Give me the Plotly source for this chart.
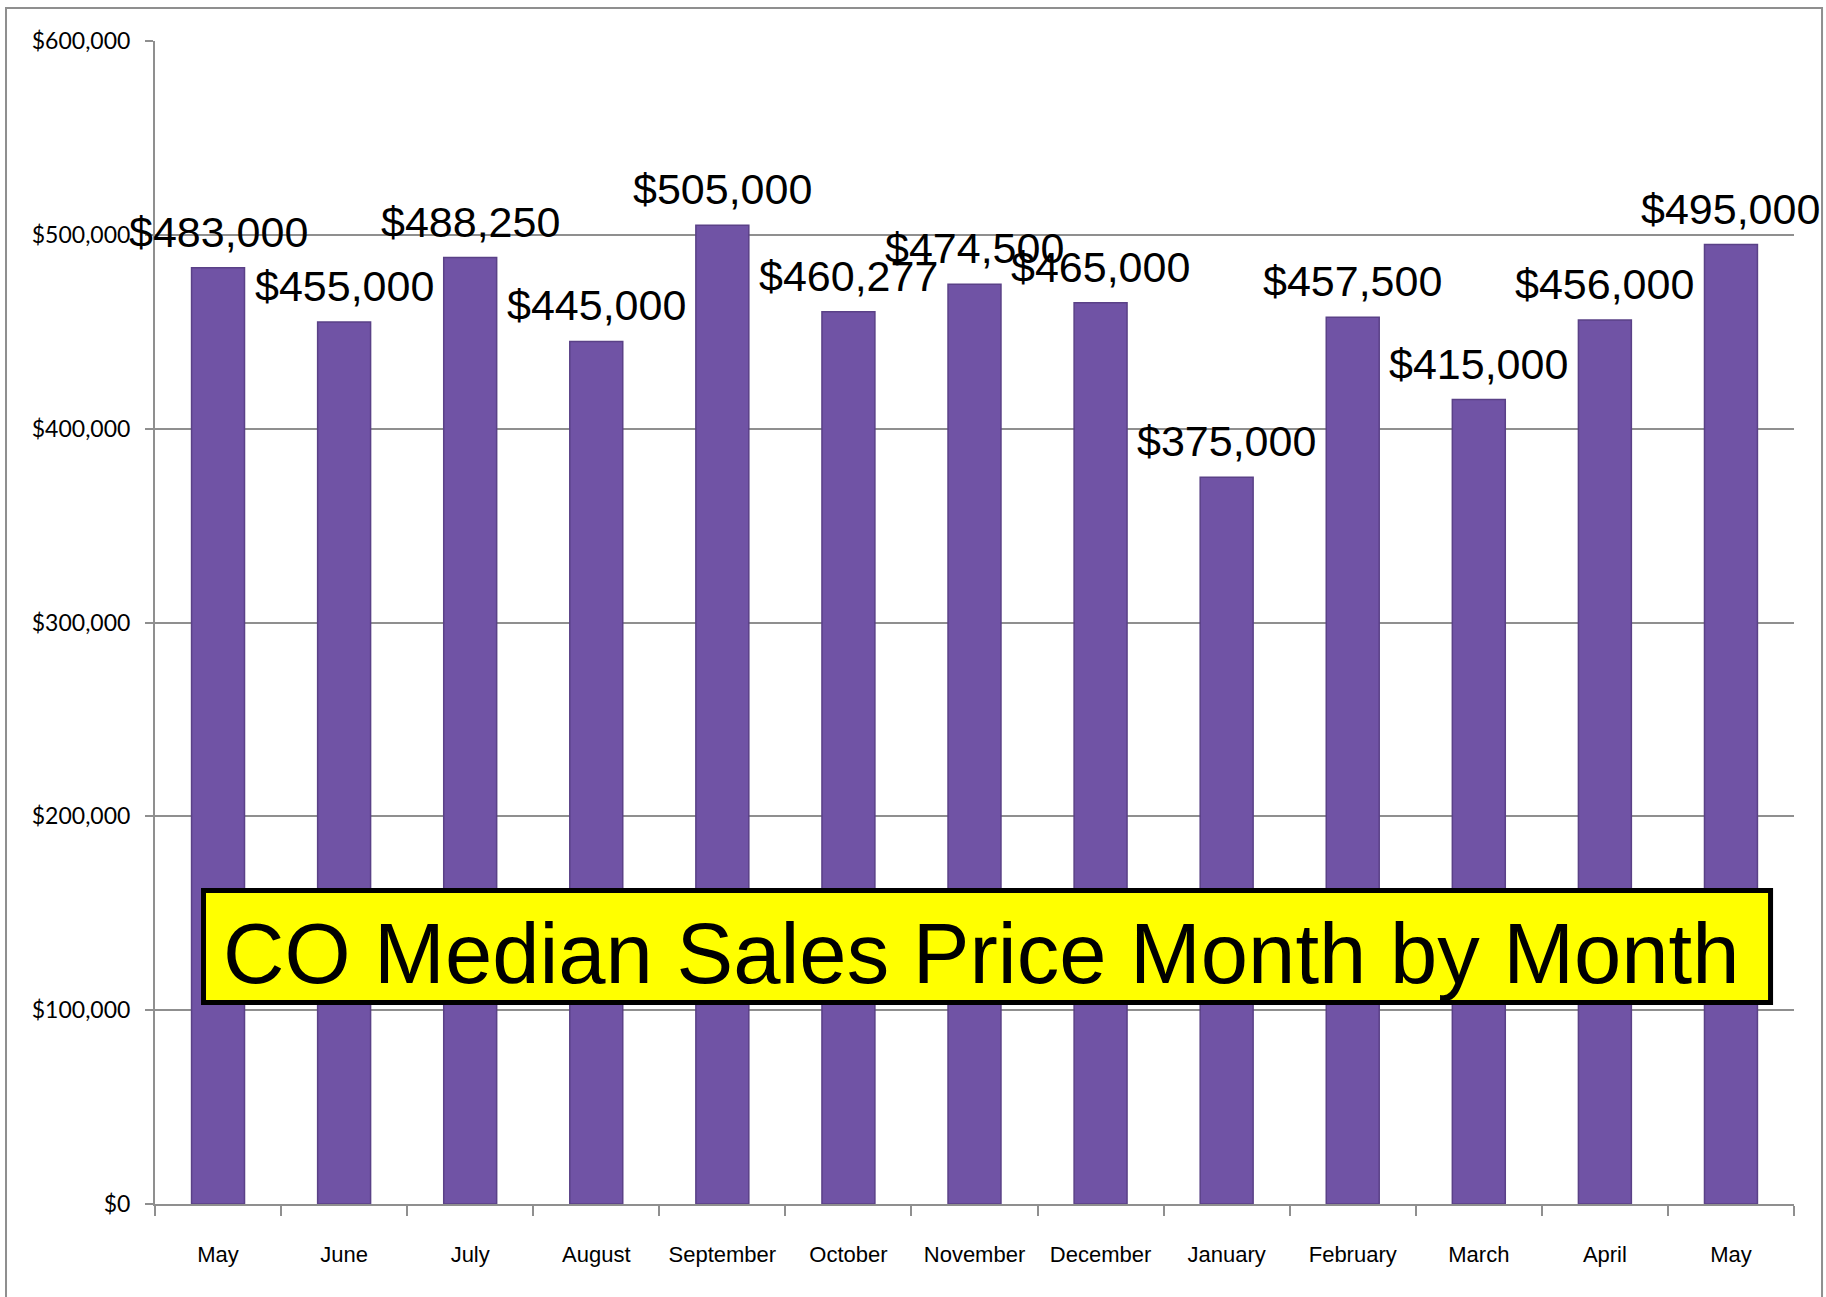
import plotly.graph_objects as go

months = ["May", "June", "July", "August", "September", "October", "November",
          "December", "January", "February", "March", "April", "May"]
prices = [483000, 455000, 488250, 445000, 505000, 460277, 474500,
          465000, 375000, 457500, 415000, 456000, 495000]
labels = ["$483,000", "$455,000", "$488,250", "$445,000", "$505,000", "$460,277", "$474,500",
          "$465,000", "$375,000", "$457,500", "$415,000", "$456,000", "$495,000"]
y_ticks = [0, 100000, 200000, 300000, 400000, 500000, 600000]
y_tick_text = ["$0", "$100,000", "$200,000", "$300,000", "$400,000", "$500,000", "$600,000"]
title_text = "CO Median Sales Price Month by Month"

xs = list(range(len(months)))

fig = go.Figure()
fig.add_trace(go.Bar(
    x=xs, y=prices, width=0.42,
    marker=dict(color="#7053a5", line=dict(color="#5a4187", width=1.5)),
    hoverinfo="skip",
))

for x, v, t in zip(xs, prices, labels):
    fig.add_annotation(x=x, y=v, text=t, showarrow=False, xanchor="center", yanchor="bottom",
                       yshift=10, font=dict(family="Liberation Sans, Arial", size=43, color="black"))

gray = "#8f8f8f"
fig.update_layout(
    width=1826, height=1297,
    margin=dict(l=155, r=32, t=41, b=93),
    paper_bgcolor="white", plot_bgcolor="white",
    showlegend=False,
    xaxis=dict(
        range=[-0.5, 12.5], tickmode="array", tickvals=xs, ticktext=months,
        ticks="", showgrid=False, zeroline=False,
        showline=True, linecolor=gray, linewidth=2,
        tickfont=dict(family="Liberation Sans, Arial", size=22, color="black"),
        ticklabelstandoff=30,
        minor=dict(tick0=0.5, dtick=1, ticks="outside", ticklen=10, tickcolor=gray, tickwidth=2, showgrid=False),
    ),
    yaxis=dict(
        range=[0, 600000], tickmode="array", tickvals=y_ticks, ticktext=y_tick_text,
        ticks="outside", ticklen=8, tickcolor=gray, tickwidth=2,
        showgrid=True, gridcolor=gray, gridwidth=2, zeroline=False,
        showline=True, linecolor=gray, linewidth=2,
        tickfont=dict(family="Lato, Carlito, Calibri", size=23, color="black"),
        ticklabelstandoff=10,
    ),
    shapes=[
        dict(type="rect", xref="paper", yref="paper",
             x0=-0.0909, x1=1.0171, y0=-0.09, y1=1.0283,
             line=dict(color=gray, width=2), fillcolor="rgba(0,0,0,0)", layer="below"),
        dict(type="rect", xref="paper", yref="paper",
             x0=0.0296, x1=0.9857, y0=0.1733, y1=0.2696,
             line=dict(color="black", width=5), fillcolor="#ffff00", layer="above"),
    ],
)
fig.add_annotation(xref="paper", yref="paper", x=0.5043, y=0.2154, text=title_text,
                   showarrow=False, xanchor="center", yanchor="middle",
                   font=dict(family="Liberation Sans, Arial", size=85, color="black"))

fig.write_html("out.html", config={"displayModeBar": False},
               post_script="document.body.style.margin='0';document.body.style.overflow='hidden';")
